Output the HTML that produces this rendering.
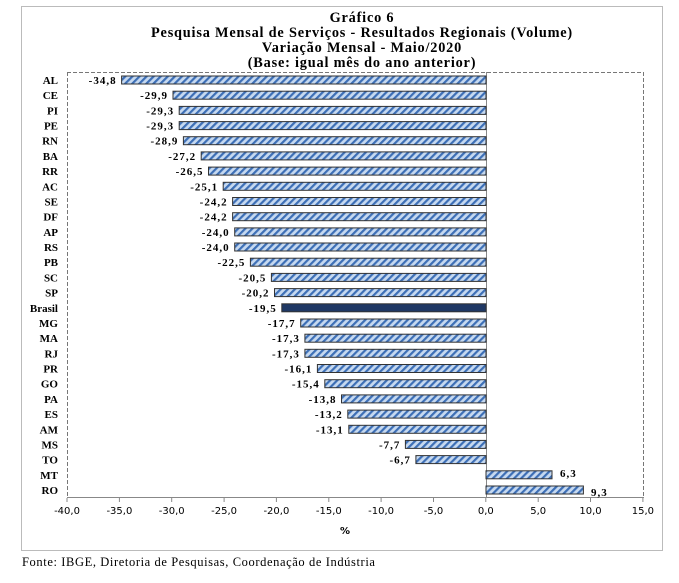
<!DOCTYPE html>
<html><head><meta charset="utf-8"><style>body{margin:0;background:#fff}</style></head>
<body>
<svg width="679" height="578" xmlns="http://www.w3.org/2000/svg">
<defs>
<pattern id="h" patternUnits="userSpaceOnUse" width="5" height="5" patternTransform="rotate(45)">
<rect width="5" height="5" fill="#c6d9f0"/><rect width="2.2" height="5" fill="#3d6fb6"/>
</pattern>
</defs>
<rect x="21.5" y="6.5" width="641" height="544" fill="#fff" stroke="#bbb"/>
<g font-family="Liberation Serif, serif" font-weight="bold" font-size="14.3" letter-spacing="0.8" text-anchor="middle" fill="#000">
<text x="362" y="22">Gráfico 6</text>
<text x="362" y="37">Pesquisa  Mensal de Serviços - Resultados Regionais (Volume)</text>
<text x="362" y="52">Variação Mensal - Maio/2020</text>
<text x="362" y="67">(Base: igual mês do ano anterior)</text>
</g>
<line x1="67" y1="72.5" x2="644" y2="72.5" stroke="#777" stroke-dasharray="4,2"/>
<line x1="643.5" y1="72" x2="643.5" y2="498" stroke="#777" stroke-dasharray="4,2"/>
<line x1="67.5" y1="72" x2="67.5" y2="498" stroke="#777" stroke-dasharray="4,2"/>
<line x1="67" y1="497.5" x2="644" y2="497.5" stroke="#888"/>
<line x1="486.5" y1="72" x2="486.5" y2="498" stroke="#888"/>

<g font-family="Liberation Serif, serif" font-weight="bold" font-size="11" fill="#000" stroke-width="1">
<g transform="translate(0,80)"><rect x="121.6" y="-4" width="364.4" height="8" fill="url(#h)" stroke="#333"/><text x="58" y="4" text-anchor="end">AL</text><text x="116.6" y="4" text-anchor="end" letter-spacing="1">-34,8</text></g>
<g transform="translate(0,95.2)"><rect x="173" y="-4" width="313" height="8" fill="url(#h)" stroke="#333"/><text x="58" y="4" text-anchor="end">CE</text><text x="168" y="4" text-anchor="end" letter-spacing="1">-29,9</text></g>
<g transform="translate(0,110.4)"><rect x="179.2" y="-4" width="306.8" height="8" fill="url(#h)" stroke="#333"/><text x="58" y="4" text-anchor="end">PI</text><text x="174.2" y="4" text-anchor="end" letter-spacing="1">-29,3</text></g>
<g transform="translate(0,125.6)"><rect x="179.2" y="-4" width="306.8" height="8" fill="url(#h)" stroke="#333"/><text x="58" y="4" text-anchor="end">PE</text><text x="174.2" y="4" text-anchor="end" letter-spacing="1">-29,3</text></g>
<g transform="translate(0,140.7)"><rect x="183.4" y="-4" width="302.6" height="8" fill="url(#h)" stroke="#333"/><text x="58" y="4" text-anchor="end">RN</text><text x="178.4" y="4" text-anchor="end" letter-spacing="1">-28,9</text></g>
<g transform="translate(0,155.9)"><rect x="201.2" y="-4" width="284.8" height="8" fill="url(#h)" stroke="#333"/><text x="58" y="4" text-anchor="end">BA</text><text x="196.2" y="4" text-anchor="end" letter-spacing="1">-27,2</text></g>
<g transform="translate(0,171.1)"><rect x="208.5" y="-4" width="277.5" height="8" fill="url(#h)" stroke="#333"/><text x="58" y="4" text-anchor="end">RR</text><text x="203.5" y="4" text-anchor="end" letter-spacing="1">-26,5</text></g>
<g transform="translate(0,186.3)"><rect x="223.2" y="-4" width="262.8" height="8" fill="url(#h)" stroke="#333"/><text x="58" y="4" text-anchor="end">AC</text><text x="218.2" y="4" text-anchor="end" letter-spacing="1">-25,1</text></g>
<g transform="translate(0,201.5)"><rect x="232.6" y="-4" width="253.4" height="8" fill="url(#h)" stroke="#333"/><text x="58" y="4" text-anchor="end">SE</text><text x="227.6" y="4" text-anchor="end" letter-spacing="1">-24,2</text></g>
<g transform="translate(0,216.7)"><rect x="232.6" y="-4" width="253.4" height="8" fill="url(#h)" stroke="#333"/><text x="58" y="4" text-anchor="end">DF</text><text x="227.6" y="4" text-anchor="end" letter-spacing="1">-24,2</text></g>
<g transform="translate(0,231.9)"><rect x="234.7" y="-4" width="251.3" height="8" fill="url(#h)" stroke="#333"/><text x="58" y="4" text-anchor="end">AP</text><text x="229.7" y="4" text-anchor="end" letter-spacing="1">-24,0</text></g>
<g transform="translate(0,247)"><rect x="234.7" y="-4" width="251.3" height="8" fill="url(#h)" stroke="#333"/><text x="58" y="4" text-anchor="end">RS</text><text x="229.7" y="4" text-anchor="end" letter-spacing="1">-24,0</text></g>
<g transform="translate(0,262.2)"><rect x="250.4" y="-4" width="235.6" height="8" fill="url(#h)" stroke="#333"/><text x="58" y="4" text-anchor="end">PB</text><text x="245.4" y="4" text-anchor="end" letter-spacing="1">-22,5</text></g>
<g transform="translate(0,277.4)"><rect x="271.4" y="-4" width="214.6" height="8" fill="url(#h)" stroke="#333"/><text x="58" y="4" text-anchor="end">SC</text><text x="266.4" y="4" text-anchor="end" letter-spacing="1">-20,5</text></g>
<g transform="translate(0,292.6)"><rect x="274.5" y="-4" width="211.5" height="8" fill="url(#h)" stroke="#333"/><text x="58" y="4" text-anchor="end">SP</text><text x="269.5" y="4" text-anchor="end" letter-spacing="1">-20,2</text></g>
<g transform="translate(0,307.8)"><rect x="281.8" y="-4" width="204.2" height="8" fill="#1f3864" stroke="#333"/><text x="58" y="4" text-anchor="end">Brasil</text><text x="276.8" y="4" text-anchor="end" letter-spacing="1">-19,5</text></g>
<g transform="translate(0,323)"><rect x="300.7" y="-4" width="185.3" height="8" fill="url(#h)" stroke="#333"/><text x="58" y="4" text-anchor="end">MG</text><text x="295.7" y="4" text-anchor="end" letter-spacing="1">-17,7</text></g>
<g transform="translate(0,338.2)"><rect x="304.9" y="-4" width="181.1" height="8" fill="url(#h)" stroke="#333"/><text x="58" y="4" text-anchor="end">MA</text><text x="299.9" y="4" text-anchor="end" letter-spacing="1">-17,3</text></g>
<g transform="translate(0,353.3)"><rect x="304.9" y="-4" width="181.1" height="8" fill="url(#h)" stroke="#333"/><text x="58" y="4" text-anchor="end">RJ</text><text x="299.9" y="4" text-anchor="end" letter-spacing="1">-17,3</text></g>
<g transform="translate(0,368.5)"><rect x="317.4" y="-4" width="168.6" height="8" fill="url(#h)" stroke="#333"/><text x="58" y="4" text-anchor="end">PR</text><text x="312.4" y="4" text-anchor="end" letter-spacing="1">-16,1</text></g>
<g transform="translate(0,383.7)"><rect x="324.8" y="-4" width="161.2" height="8" fill="url(#h)" stroke="#333"/><text x="58" y="4" text-anchor="end">GO</text><text x="319.8" y="4" text-anchor="end" letter-spacing="1">-15,4</text></g>
<g transform="translate(0,398.9)"><rect x="341.5" y="-4" width="144.5" height="8" fill="url(#h)" stroke="#333"/><text x="58" y="4" text-anchor="end">PA</text><text x="336.5" y="4" text-anchor="end" letter-spacing="1">-13,8</text></g>
<g transform="translate(0,414.1)"><rect x="347.8" y="-4" width="138.2" height="8" fill="url(#h)" stroke="#333"/><text x="58" y="4" text-anchor="end">ES</text><text x="342.8" y="4" text-anchor="end" letter-spacing="1">-13,2</text></g>
<g transform="translate(0,429.3)"><rect x="348.8" y="-4" width="137.2" height="8" fill="url(#h)" stroke="#333"/><text x="58" y="4" text-anchor="end">AM</text><text x="343.8" y="4" text-anchor="end" letter-spacing="1">-13,1</text></g>
<g transform="translate(0,444.4)"><rect x="405.4" y="-4" width="80.6" height="8" fill="url(#h)" stroke="#333"/><text x="58" y="4" text-anchor="end">MS</text><text x="400.4" y="4" text-anchor="end" letter-spacing="1">-7,7</text></g>
<g transform="translate(0,459.6)"><rect x="415.9" y="-4" width="70.1" height="8" fill="url(#h)" stroke="#333"/><text x="58" y="4" text-anchor="end">TO</text><text x="410.9" y="4" text-anchor="end" letter-spacing="1">-6,7</text></g>
<g transform="translate(0,474.8)"><rect x="486" y="-4" width="66" height="8" fill="url(#h)" stroke="#333"/><text x="58" y="4" text-anchor="end">MT</text><text x="560" y="2" letter-spacing="1">6,3</text></g>
<g transform="translate(0,490)"><rect x="486" y="-4" width="97.4" height="8" fill="url(#h)" stroke="#333"/><text x="58" y="4" text-anchor="end">RO</text><text x="591" y="6" letter-spacing="1">9,3</text></g>
</g>

<g stroke="#888">
<line x1="67" y1="498" x2="67" y2="502"/><line x1="119.4" y1="498" x2="119.4" y2="502"/><line x1="171.7" y1="498" x2="171.7" y2="502"/><line x1="224.1" y1="498" x2="224.1" y2="502"/><line x1="276.4" y1="498" x2="276.4" y2="502"/><line x1="328.8" y1="498" x2="328.8" y2="502"/><line x1="381.1" y1="498" x2="381.1" y2="502"/><line x1="433.5" y1="498" x2="433.5" y2="502"/><line x1="485.8" y1="498" x2="485.8" y2="502"/><line x1="538.2" y1="498" x2="538.2" y2="502"/><line x1="590.5" y1="498" x2="590.5" y2="502"/><line x1="642.9" y1="498" x2="642.9" y2="502"/>
</g>
<g font-family="DejaVu Sans, sans-serif" font-size="10" text-anchor="middle" fill="#000">
<text x="67" y="514">-40,0</text><text x="119.4" y="514">-35,0</text><text x="171.7" y="514">-30,0</text><text x="224.1" y="514">-25,0</text><text x="276.4" y="514">-20,0</text><text x="328.8" y="514">-15,0</text><text x="381.1" y="514">-10,0</text><text x="433.5" y="514">-5,0</text><text x="485.8" y="514">0,0</text><text x="538.2" y="514">5,0</text><text x="590.5" y="514">10,0</text><text x="642.9" y="514">15,0</text>
</g>
<text x="345" y="534" font-family="DejaVu Sans, sans-serif" font-size="10" font-weight="bold" text-anchor="middle">%</text>
<text x="22" y="566" font-family="Liberation Serif, serif" font-size="12.5" letter-spacing="0.6">Fonte: IBGE, Diretoria de Pesquisas, Coordenação de Indústria</text>
</svg>
</body></html>
